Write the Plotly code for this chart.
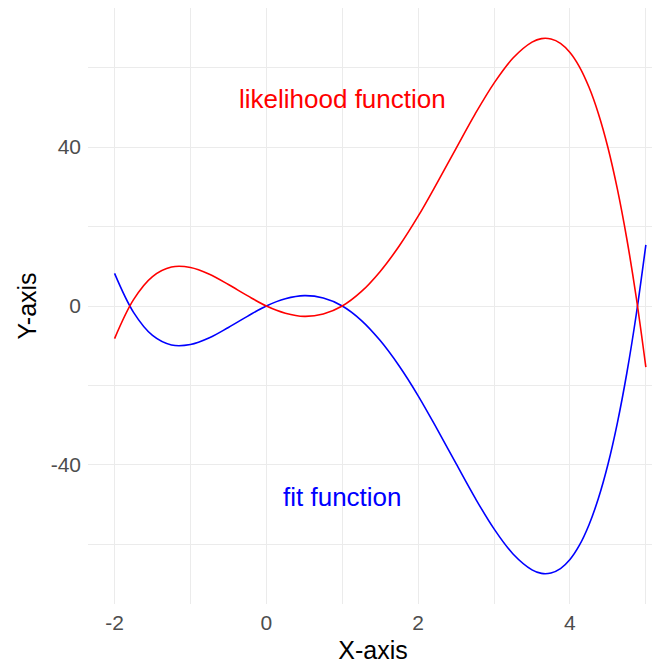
import plotly.graph_objects as go

x_vals = [-2.0, -1.75, -1.5, -1.25, -1.0, -0.75, -0.5, -0.25, 0.0, 0.25, 0.5, 0.75,
          1.0, 1.25, 1.5, 1.75, 2.0, 2.25, 2.5, 2.75, 3.0, 3.25, 3.5, 3.625, 3.75, 3.875, 4.0,
          4.125, 4.25, 4.375, 4.5, 4.625, 4.75, 4.875, 5.0]
fit_vals = [8.2, -1.6, -7.4, -9.8, -9.7, -8.0, -5.4, -2.6, 0.0, 1.8, 2.6, 2.0,
            0.0, -3.6, -8.7, -15.1, -22.6, -31.0, -39.7, -48.3, -56.1, -62.4, -66.4, -67.3, -67.2, -66.1, -63.8,
            -60.2, -55.1, -48.4, -39.9, -29.4, -16.8, -1.95, 15.4]
lik_vals = [-8.2, 1.6, 7.4, 9.8, 9.7, 8.0, 5.4, 2.6, 0.0, -1.8, -2.6, -2.0,
            0.0, 3.6, 8.7, 15.1, 22.6, 31.0, 39.7, 48.3, 56.1, 62.4, 66.4, 67.3, 67.2, 66.1, 63.8,
            60.2, 55.1, 48.4, 39.9, 29.4, 16.8, 1.95, -15.4]
x_ticks = [-2, 0, 2, 4]
x_tick_text = ["-2", "0", "2", "4"]
y_ticks = [-40, 0, 40]
y_tick_text = ["-40", "0", "40"]
labels = ["likelihood function", "fit function"]
label_x = [1.0, 1.0]
label_y = [52, -48]
colors = ["red", "blue"]

fig = go.Figure()
fig.add_trace(go.Scatter(x=x_vals, y=fit_vals, mode="lines", line=dict(color="blue", width=1.6, shape="spline", smoothing=1), showlegend=False))
fig.add_trace(go.Scatter(x=x_vals, y=lik_vals, mode="lines", line=dict(color="red", width=1.6, shape="spline", smoothing=1), showlegend=False))

for t, ax, ay, c in zip(labels, label_x, label_y, colors):
    fig.add_annotation(x=ax, y=ay, text=t, showarrow=False, font=dict(color=c, size=26, family="Liberation Sans, Arial"))

grid = "#EBEBEB"
fig.update_layout(
    width=652, height=659,
    margin=dict(l=80, r=2, t=0, b=63, autoexpand=False),
    paper_bgcolor="white", plot_bgcolor="white",
    font=dict(family="Liberation Sans, Arial", color="black"),
    xaxis=dict(range=[-2.35, 5.16], tickvals=x_ticks, ticktext=x_tick_text, showgrid=True, gridcolor=grid, gridwidth=1.1,
               zeroline=False, showline=False, ticks="", ticklabelstandoff=4,
               tickfont=dict(size=21, color="#4D4D4D"),
               minor=dict(showgrid=True, gridcolor=grid, gridwidth=0.55, tickvals=[-1, 1, 3, 5]),
               title=dict(text="X-axis", font=dict(size=25, color="black"), standoff=8)),
    yaxis=dict(range=[-75, 75], tickvals=y_ticks, ticktext=y_tick_text, showgrid=True, gridcolor=grid, gridwidth=1.1,
               zeroline=False, showline=False, ticks="", ticklabelstandoff=6,
               tickfont=dict(size=21, color="#4D4D4D"),
               minor=dict(showgrid=True, gridcolor=grid, gridwidth=0.55, tickvals=[-60, -20, 20, 60]),
               title=dict(text="Y-axis", font=dict(size=25, color="black"), standoff=6)),
)
fig.write_html("out.html")
